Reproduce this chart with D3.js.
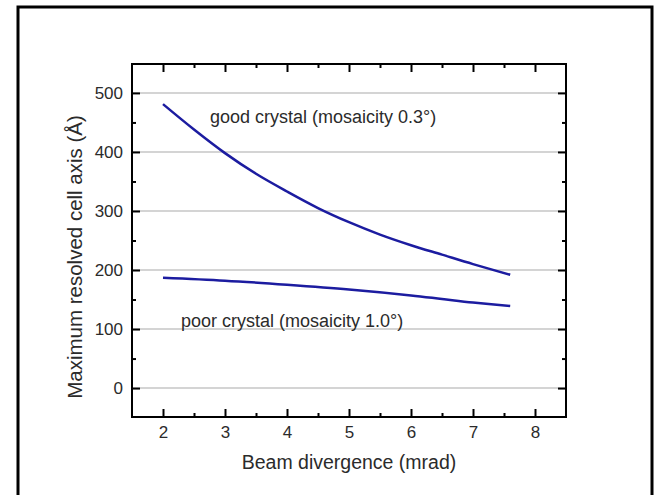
<!DOCTYPE html>
<html>
<head>
<meta charset="utf-8">
<script src="https://cdn.jsdelivr.net/npm/d3@7"></script>
<style>
  html, body { margin: 0; padding: 0; background: #fff; }
  svg { display: block; }
  text { font-family: "Liberation Sans", Arial, sans-serif; fill: #2b2b2b; }
</style>
</head>
<body>
<script>
// ---- data ----
const xGood = [2, 2.5, 3, 3.5, 4, 4.5, 5, 5.5, 6, 6.5, 7, 7.6];
const yGood = [481, 438, 398, 363, 333, 305, 281, 260, 242, 226, 210, 192];
const xPoor = [2, 3, 4, 5, 6, 6.5, 7, 7.6];
const yPoor = [187, 182, 175, 167, 157, 151, 145, 139];
const xTicks = [2, 3, 4, 5, 6, 7, 8];
const yTicks = [0, 100, 200, 300, 400, 500];
const seriesLabels = ["good crystal (mosaicity 0.3°)", "poor crystal (mosaicity 1.0°)"];
const xTitle = "Beam divergence (mrad)";
const yTitle = "Maximum resolved cell axis (Å)";

const W = 659, H = 495;
const svg = d3.select("body").append("svg").attr("width", W).attr("height", H);

// outer frame (no bottom edge visible)
svg.append("path")
  .attr("d", `M18,${H + 5} L18,7 L652,7 L652,${H + 5}`)
  .attr("fill", "none").attr("stroke", "#000").attr("stroke-width", 3);

const L = 132, R = 566, T = 64, B = 417;
const x = d3.scaleLinear().domain([1.5, 8.5]).range([L, R]);
const y = d3.scaleLinear().domain([-49, 549]).range([B, T]);

// gridlines
svg.append("g").selectAll("line").data(yTicks).join("line")
  .attr("x1", L).attr("x2", R)
  .attr("y1", d => y(d)).attr("y2", d => y(d))
  .attr("stroke", "#c6c6c6").attr("stroke-width", 1.5);

// axes with inward ticks
const xMinor = d3.range(2.5, 8.5, 1);
const yMinor = d3.range(50, 550, 100);
const tickFont = 17;

function styleAxis(g) {
  g.select(".domain").remove();
  g.selectAll("line").attr("stroke", "#000").attr("stroke-width", 2);
}
function styleText(g) {
  g.selectAll("text").attr("font-size", tickFont).attr("fill", "#2b2b2b")
    .attr("font-family", "Liberation Sans, Arial, sans-serif");
}

// bottom
svg.append("g").attr("transform", `translate(0,${B})`)
  .call(d3.axisBottom(x).tickValues(xTicks).tickSize(-8).tickPadding(9).tickFormat(d3.format("d")))
  .call(styleAxis).call(styleText);
svg.append("g").attr("transform", `translate(0,${B})`)
  .call(d3.axisBottom(x).tickValues(xMinor).tickSize(-4).tickFormat(""))
  .call(styleAxis);
// top
svg.append("g").attr("transform", `translate(0,${T})`)
  .call(d3.axisTop(x).tickValues(xTicks).tickSize(-8).tickFormat(""))
  .call(styleAxis);
svg.append("g").attr("transform", `translate(0,${T})`)
  .call(d3.axisTop(x).tickValues(xMinor).tickSize(-4).tickFormat(""))
  .call(styleAxis);
// left
svg.append("g").attr("transform", `translate(${L},0)`)
  .call(d3.axisLeft(y).tickValues(yTicks).tickSize(-8).tickPadding(9).tickFormat(d3.format("d")))
  .call(styleAxis).call(styleText);
svg.append("g").attr("transform", `translate(${L},0)`)
  .call(d3.axisLeft(y).tickValues(yMinor).tickSize(-4).tickFormat(""))
  .call(styleAxis);
// right
svg.append("g").attr("transform", `translate(${R},0)`)
  .call(d3.axisRight(y).tickValues(yTicks).tickSize(-8).tickFormat(""))
  .call(styleAxis);
svg.append("g").attr("transform", `translate(${R},0)`)
  .call(d3.axisRight(y).tickValues(yMinor).tickSize(-4).tickFormat(""))
  .call(styleAxis);

// frame of plot
svg.append("rect").attr("x", L).attr("y", T).attr("width", R - L).attr("height", B - T)
  .attr("fill", "none").attr("stroke", "#000").attr("stroke-width", 2);

// curves
const line = d3.line().x(d => x(d[0])).y(d => y(d[1])).curve(d3.curveCatmullRom);
svg.append("path").datum(xGood.map((v, i) => [v, yGood[i]]))
  .attr("d", line).attr("fill", "none").attr("stroke", "#1c1ca0").attr("stroke-width", 2.5);
svg.append("path").datum(xPoor.map((v, i) => [v, yPoor[i]]))
  .attr("d", line).attr("fill", "none").attr("stroke", "#1c1ca0").attr("stroke-width", 2.5);

// annotations
svg.append("text").attr("x", 210).attr("y", 123).attr("font-size", 18).text(seriesLabels[0]);
svg.append("text").attr("x", 181).attr("y", 327).attr("font-size", 18).text(seriesLabels[1]);

// titles
svg.append("text").attr("x", (L + R) / 2).attr("y", 469).attr("text-anchor", "middle")
  .attr("font-size", 19.5).text(xTitle);
svg.append("text").attr("transform", `translate(82,257) rotate(-90)`).attr("text-anchor", "middle")
  .attr("font-size", 20.5).text(yTitle);
</script>
</body>
</html>
